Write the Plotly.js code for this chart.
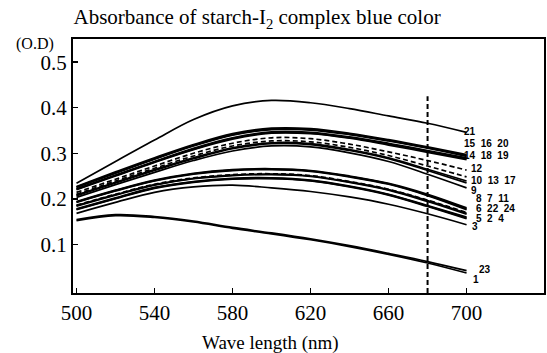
<!DOCTYPE html>
<html>
<head>
<meta charset="utf-8">
<script src="https://cdn.plot.ly/plotly-3.0.1.min.js"></script>
<style>html,body{margin:0;padding:0;background:#fff;}#chart{width:547px;height:353px;}</style>
</head>
<body>
<div id="chart"></div>
<script>
// Wavelengths (nm)
const wavelength = [500, 520, 540, 560, 580, 600, 620, 640, 660, 680, 700];

// Absorbance (O.D) per sample number
const s21 = [0.234, 0.282, 0.329, 0.374, 0.404, 0.416, 0.411, 0.398, 0.382, 0.366, 0.346];
const s15 = [0.227, 0.259, 0.290, 0.319, 0.343, 0.355, 0.354, 0.344, 0.330, 0.314, 0.297];
const s16 = [0.226, 0.257, 0.288, 0.317, 0.341, 0.353, 0.352, 0.342, 0.328, 0.312, 0.295];
const s20 = [0.225, 0.256, 0.287, 0.316, 0.340, 0.352, 0.351, 0.341, 0.327, 0.311, 0.293];
const s14 = [0.222, 0.252, 0.282, 0.311, 0.334, 0.347, 0.346, 0.336, 0.322, 0.306, 0.290];
const s18 = [0.221, 0.251, 0.281, 0.309, 0.333, 0.345, 0.344, 0.334, 0.320, 0.304, 0.288];
const s19 = [0.220, 0.250, 0.280, 0.308, 0.331, 0.344, 0.343, 0.333, 0.318, 0.302, 0.286];
const s12 = [0.214, 0.243, 0.272, 0.300, 0.322, 0.334, 0.332, 0.320, 0.303, 0.284, 0.263];
const s10 = [0.210, 0.239, 0.267, 0.294, 0.316, 0.327, 0.325, 0.313, 0.295, 0.272, 0.248];
const s13 = [0.208, 0.236, 0.264, 0.290, 0.312, 0.323, 0.321, 0.308, 0.290, 0.265, 0.239];
const s17 = [0.207, 0.235, 0.262, 0.288, 0.310, 0.321, 0.319, 0.306, 0.288, 0.262, 0.235];
const s9  = [0.203, 0.231, 0.258, 0.284, 0.305, 0.316, 0.314, 0.301, 0.282, 0.254, 0.224];
const s8  = [0.194, 0.219, 0.241, 0.256, 0.264, 0.266, 0.262, 0.250, 0.234, 0.210, 0.180];
const s7  = [0.193, 0.218, 0.240, 0.255, 0.263, 0.265, 0.261, 0.249, 0.233, 0.208, 0.178];
const s11 = [0.192, 0.217, 0.239, 0.254, 0.262, 0.264, 0.260, 0.248, 0.232, 0.207, 0.176];
const s6  = [0.186, 0.210, 0.232, 0.246, 0.253, 0.255, 0.251, 0.238, 0.221, 0.197, 0.170];
const s22 = [0.185, 0.209, 0.231, 0.245, 0.252, 0.254, 0.250, 0.237, 0.220, 0.196, 0.168];
const s24 = [0.184, 0.208, 0.230, 0.244, 0.251, 0.253, 0.249, 0.236, 0.219, 0.194, 0.166];
const s5  = [0.178, 0.202, 0.225, 0.238, 0.245, 0.246, 0.241, 0.228, 0.210, 0.185, 0.160];
const s2  = [0.177, 0.201, 0.224, 0.237, 0.244, 0.245, 0.240, 0.227, 0.209, 0.184, 0.158];
const s4  = [0.176, 0.200, 0.223, 0.236, 0.243, 0.244, 0.239, 0.226, 0.208, 0.183, 0.156];
const s3  = [0.168, 0.192, 0.214, 0.226, 0.230, 0.224, 0.216, 0.204, 0.188, 0.167, 0.143];
const s23 = [0.154, 0.165, 0.161, 0.151, 0.137, 0.125, 0.112, 0.097, 0.080, 0.062, 0.042];
const s1  = [0.152, 0.163, 0.159, 0.149, 0.135, 0.123, 0.110, 0.095, 0.078, 0.059, 0.037];

// Measurement wavelength marker (dashed vertical line)
const markerWavelength = [680, 680];
const markerOD = [-0.007, 0.425];

// Curve label groups
const labelTexts = ["21", "15  16  20", "14  18  19", "12", "10  13  17", "9",
                    "8  7  11", "6  22  24", "5  2  4", "3", "23", "1"];

const xTicks = [500, 540, 580, 620, 660, 700];
const yTicks = [0.1, 0.2, 0.3, 0.4, 0.5];
const yTickText = ["0.1", "0.2", "0.3", "0.4", "0.5"];

const series = [
  {y: s21, dash: 'solid'}, {y: s15, dash: 'solid'}, {y: s16, dash: 'solid'}, {y: s20, dash: 'solid'},
  {y: s14, dash: 'solid'}, {y: s18, dash: 'solid'}, {y: s19, dash: 'solid'},
  {y: s12, dash: '5px,3px'}, {y: s10, dash: '5px,3px'}, {y: s13, dash: 'solid'}, {y: s17, dash: 'solid'},
  {y: s9, dash: 'solid'},
  {y: s8, dash: 'solid'}, {y: s7, dash: 'solid'}, {y: s11, dash: 'solid'},
  {y: s6, dash: '5px,3px'}, {y: s22, dash: 'solid'}, {y: s24, dash: 'solid'},
  {y: s5, dash: 'solid'}, {y: s2, dash: 'solid'}, {y: s4, dash: 'solid'}, {y: s3, dash: 'solid'},
  {y: s23, dash: 'solid'}, {y: s1, dash: 'solid'}
];

const traces = series.map(s => ({
  x: wavelength, y: s.y, type: 'scatter', mode: 'lines',
  line: {color: '#000', width: 1.7, dash: s.dash, shape: 'spline', smoothing: 1.0},
  hoverinfo: 'skip', showlegend: false
}));

traces.push({
  x: markerWavelength, y: markerOD, type: 'scatter', mode: 'lines',
  line: {color: '#000', width: 2, dash: '5px,3px'}, hoverinfo: 'skip', showlegend: false
});

// label placement (layout only)
const labelPos = [
  [697.8, 0.347], [697.4, 0.322], [697.4, 0.296], [701.0, 0.266], [701.0, 0.240], [701.0, 0.218],
  [704.0, 0.201], [704.0, 0.179], [704.0, 0.157], [702.0, 0.139], [705.6, 0.045], [702.5, 0.022]
];

const serif = 'Liberation Serif, Times New Roman, serif';

const annotations = labelTexts.map((t, i) => ({
  x: labelPos[i][0], y: labelPos[i][1], xref: 'x', yref: 'y',
  text: t.replace(/ /g, '\u00a0'), showarrow: false, xanchor: 'left', yanchor: 'middle',
  font: {family: 'Liberation Sans, Arial, sans-serif', size: 10, color: '#000', weight: 'bold'}
}));

annotations.push({
  xref: 'paper', yref: 'paper', x: -0.081, y: 0.98, text: '(O.D)', showarrow: false,
  xanchor: 'center', yanchor: 'middle',
  font: {family: serif, size: 16, color: '#000'}
});

// x-axis title (centred under the tick labels, as in the reference)
annotations.push({
  xref: 'paper', yref: 'paper', x: (270 - 73) / 471, y: -0.196, text: 'Wave length (nm)', showarrow: false,
  xanchor: 'center', yanchor: 'middle',
  font: {family: serif, size: 19, color: '#000'}
});

const layout = {
  width: 547, height: 353,
  margin: {l: 73, r: 3, t: 39, b: 60, pad: 0},
  paper_bgcolor: '#fff', plot_bgcolor: '#fff',
  title: {
    text: 'Absorbance of starch-I<sub>2</sub> complex blue color',
    xref: 'container', yref: 'container', x: 0.47, y: 0.952, xanchor: 'center', yanchor: 'middle',
    font: {family: serif, size: 21, color: '#000'}
  },
  xaxis: {
    range: [498.2, 739.7], tickvals: xTicks, ticktext: xTicks.map(String),
    ticks: 'inside', ticklen: 5, tickwidth: 1.5, tickcolor: '#000',
    showline: true, linecolor: '#000', linewidth: 2, mirror: true,
    showgrid: false, zeroline: false,
    tickfont: {family: serif, size: 21, color: '#000'}
  },
  yaxis: {
    range: [-0.007, 0.551], tickvals: yTicks, ticktext: yTickText,
    ticks: 'inside', ticklen: 5, tickwidth: 1.5, tickcolor: '#000',
    showline: true, linecolor: '#000', linewidth: 2, mirror: true,
    showgrid: false, zeroline: false,
    tickfont: {family: serif, size: 21, color: '#000'}
  },
  annotations: annotations,
  showlegend: false
};

Plotly.newPlot('chart', traces, layout, {staticPlot: true, displayModeBar: false});
</script>
</body>
</html>
